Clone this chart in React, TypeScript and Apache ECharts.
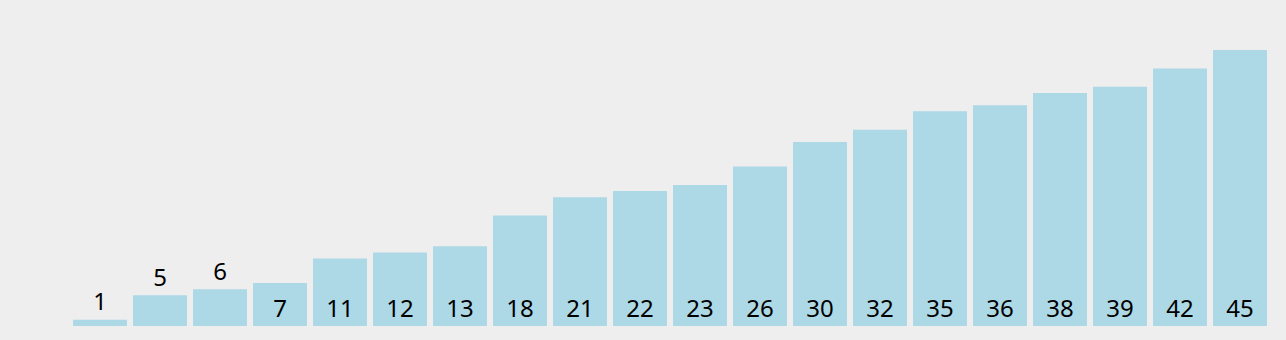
import React, { useEffect, useRef } from "react";
import * as echarts from "echarts";

const categories = ["a1","a2","a3","a4","a5","a6","a7","a8","a9","a10","a11","a12","a13","a14","a15","a16","a17","a18","a19","a20"];
const values = [1, 5, 6, 7, 11, 12, 13, 18, 21, 22, 23, 26, 30, 32, 35, 36, 38, 39, 42, 45];

export default function App() {
  const ref = useRef<HTMLDivElement>(null);
  useEffect(() => {
    if (!ref.current) return;
    const chart = echarts.init(ref.current, undefined, { renderer: "svg" });
    const font = "'Noto Sans', 'Open Sans', sans-serif";
    chart.setOption({
      animation: false,
      backgroundColor: "#eeeeee",
      grid: { left: 70, right: 16, top: 50, bottom: 14 },
      xAxis: {
        type: "category",
        data: categories,
        show: false,
      },
      yAxis: { type: "value", min: 0, max: 45, show: false },
      series: [
        {
          type: "bar",
          barCategoryGap: "10%",
          itemStyle: { color: "#add8e6" },
          data: values.map((v) => ({
            value: v,
            label: v < 7
              ? { show: true, position: "top", distance: 7 }
              : { show: true, position: "insideBottom", distance: 7 },
          })),
          label: {
            show: true,
            color: "#000",
            fontSize: 24,
            fontFamily: font,
          },
        },
      ],
    });
    return () => chart.dispose();
  }, []);
  return <div ref={ref} style={{ position: "absolute", left: 0, top: 0, width: 1286, height: 340 }} />;
}
